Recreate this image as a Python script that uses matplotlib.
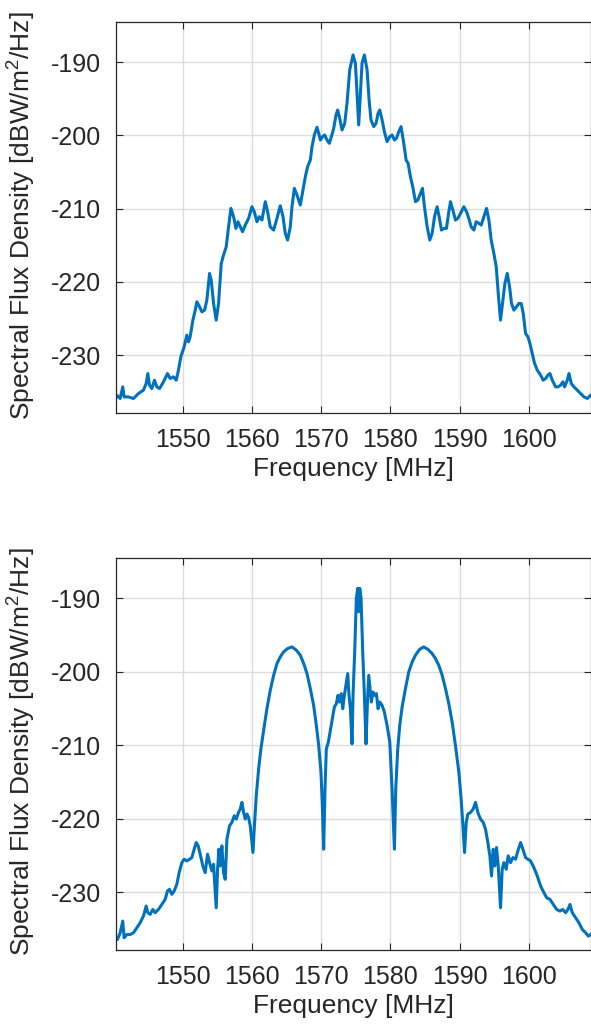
import matplotlib
matplotlib.use("Agg")
import matplotlib.pyplot as plt

plt.rcParams['font.family'] = ['Liberation Sans', 'DejaVu Sans']
plt.rcParams['mathtext.fontset'] = 'custom'
plt.rcParams['mathtext.rm'] = 'Liberation Sans'
plt.rcParams['mathtext.it'] = 'Liberation Sans'
plt.rcParams['axes.unicode_minus'] = False

# ---- Data: top panel (frequency [MHz], spectral flux density [dBW/m^2/Hz]) ----
freq_top = [1540.21, 1540.45, 1540.94, 1541.32, 1541.52, 1542.14, 1542.87, 1543.59,
            1544.31, 1544.70, 1544.94, 1545.18, 1545.52, 1545.90, 1546.24, 1546.63,
            1547.21, 1547.78, 1548.17, 1548.65, 1549.04, 1549.37, 1549.71, 1550.19,
            1550.58, 1550.82, 1551.06, 1551.45, 1551.79, 1552.03, 1552.41, 1552.75,
            1553.14, 1553.47, 1553.86, 1554.10, 1554.44, 1554.82, 1555.16, 1555.55,
            1555.88, 1556.27, 1556.61, 1556.94, 1557.33, 1557.67, 1557.96, 1558.29,
            1558.63, 1559.02, 1559.50, 1559.98, 1560.32, 1560.71, 1561.04, 1561.43,
            1561.91, 1562.25, 1562.63, 1563.12, 1563.60, 1564.08, 1564.47, 1564.80,
            1565.14, 1565.53, 1565.77, 1566.11, 1566.49, 1566.97, 1567.36, 1567.70,
            1568.03, 1568.42, 1568.66, 1569.00, 1569.38, 1569.63, 1569.87, 1570.20,
            1570.49, 1570.83, 1571.17, 1571.46, 1571.80, 1572.13, 1572.37, 1572.66,
            1573.00, 1573.39, 1573.72, 1574.11, 1574.59, 1574.93, 1575.17, 1575.41,
            1575.65, 1575.89, 1576.23, 1576.62, 1576.91, 1577.19, 1577.58, 1577.92,
            1578.21, 1578.45, 1578.79, 1579.12, 1579.51, 1579.90, 1580.23, 1580.57,
            1580.86, 1581.20, 1581.53, 1581.92, 1582.26, 1582.55, 1582.88, 1583.22,
            1583.61, 1583.95, 1584.33, 1584.62, 1584.91, 1585.30, 1585.68, 1586.02,
            1586.36, 1586.74, 1587.08, 1587.37, 1587.71, 1588.09, 1588.43, 1588.67,
            1589.01, 1589.39, 1589.73, 1590.12, 1590.60, 1590.99, 1591.32, 1591.66,
            1592.05, 1592.38, 1592.77, 1593.11, 1593.49, 1593.88, 1594.22, 1594.55,
            1594.94, 1595.28, 1595.57, 1595.90, 1596.24, 1596.53, 1596.87, 1597.21,
            1597.49, 1597.83, 1598.22, 1598.56, 1598.89, 1599.18, 1599.52, 1599.86,
            1600.15, 1600.48, 1600.82, 1601.21, 1601.69, 1602.07, 1602.41, 1602.75,
            1603.04, 1603.38, 1603.86, 1604.20, 1604.58, 1604.92, 1605.16, 1605.55,
            1605.79, 1606.12, 1606.51, 1606.99, 1607.47, 1607.96, 1608.44, 1608.92]
sfd_top = [-236.15, -235.47, -235.92, -234.33, -235.70, -235.70, -235.92, -235.24,
           -234.78, -233.87, -232.51, -234.10, -234.56, -233.42, -234.33, -234.56,
           -233.64, -232.51, -233.19, -232.96, -233.42, -232.05, -230.23, -228.86,
           -227.27, -228.18, -227.49, -225.22, -223.85, -222.71, -223.39, -224.08,
           -223.85, -222.48, -218.84, -219.75, -222.94, -225.22, -222.94, -217.47,
           -216.33, -215.19, -212.46, -209.95, -211.09, -212.69, -211.78, -212.46,
           -213.14, -212.23, -211.32, -209.73, -210.41, -211.78, -211.09, -211.55,
           -209.04, -210.41, -212.46, -212.92, -211.32, -209.59, -211.09, -213.37,
           -214.28, -212.46, -209.73, -207.22, -208.13, -209.50, -207.45, -205.63,
           -204.26, -203.35, -201.53, -199.93, -198.88, -199.70, -200.62, -200.16,
           -199.93, -200.62, -201.07, -200.16, -199.02, -197.20, -196.52, -197.65,
           -199.25, -198.34, -195.60, -191.05, -189.00, -190.14, -194.24, -198.56,
           -194.24, -190.14, -189.00, -191.05, -195.15, -197.88, -198.79, -198.34,
           -196.97, -196.52, -197.88, -199.48, -200.84, -200.16, -199.93, -200.62,
           -200.39, -199.48, -198.79, -201.07, -203.35, -203.80, -205.63, -206.99,
           -209.04, -208.82, -207.90, -207.22, -209.73, -212.46, -214.28, -213.37,
           -211.09, -209.73, -211.32, -212.92, -212.69, -212.69, -210.41, -209.04,
           -210.18, -211.55, -211.32, -210.64, -209.73, -210.41, -211.32, -212.46,
           -212.92, -211.78, -212.00, -212.23, -211.09, -209.95, -211.55, -214.28,
           -216.11, -217.93, -221.57, -225.22, -222.48, -220.21, -218.84, -220.66,
           -222.94, -223.85, -223.39, -222.94, -222.94, -224.31, -227.04, -227.49,
           -228.41, -229.77, -231.14, -232.05, -232.73, -233.42, -233.19, -232.73,
           -232.51, -233.42, -234.33, -234.33, -234.10, -233.64, -234.33, -233.42,
           -232.51, -233.87, -234.33, -234.78, -235.24, -235.70, -235.92, -235.47]

# ---- Data: bottom panel ----
freq_bot = [1540.21, 1540.55, 1540.94, 1541.32, 1541.52, 1541.90, 1542.38, 1542.87,
            1543.35, 1543.83, 1544.31, 1544.70, 1544.94, 1545.28, 1545.66, 1546.00,
            1546.48, 1546.96, 1547.45, 1547.78, 1548.07, 1548.41, 1548.75, 1549.13,
            1549.47, 1549.86, 1550.19, 1550.58, 1550.97, 1551.30, 1551.64, 1551.93,
            1552.22, 1552.51, 1552.89, 1553.23, 1553.57, 1553.86, 1554.20, 1554.44,
            1554.82, 1555.02, 1555.21, 1555.40, 1555.64, 1555.88, 1556.12, 1556.37,
            1556.75, 1557.09, 1557.43, 1557.72, 1558.05, 1558.29, 1558.54, 1558.78,
            1559.02, 1559.26, 1559.50, 1559.74, 1560.13, 1560.37, 1560.61, 1560.95,
            1561.28, 1561.67, 1562.15, 1562.63, 1563.12, 1563.60, 1564.08, 1564.56,
            1565.14, 1565.77, 1566.40, 1566.97, 1567.46, 1567.94, 1568.42, 1568.90,
            1569.29, 1569.63, 1569.96, 1570.16, 1570.35, 1570.54, 1570.73, 1571.02,
            1571.31, 1571.60, 1571.89, 1572.18, 1572.42, 1572.66, 1572.90, 1573.10,
            1573.34, 1573.63, 1573.82, 1574.01, 1574.21, 1574.45, 1574.59, 1574.83,
            1575.07, 1575.27, 1575.41, 1575.56, 1575.75, 1575.99, 1576.23, 1576.47,
            1576.67, 1576.86, 1577.05, 1577.24, 1577.48, 1577.73, 1577.97, 1578.21,
            1578.45, 1578.79, 1579.12, 1579.51, 1579.90, 1580.23, 1580.57, 1580.76,
            1581.05, 1581.34, 1581.68, 1582.16, 1582.64, 1583.13, 1583.61, 1584.23,
            1584.81, 1585.44, 1586.02, 1586.50, 1586.98, 1587.47, 1587.95, 1588.43,
            1588.91, 1589.39, 1589.88, 1590.21, 1590.50, 1590.70, 1590.94, 1591.18,
            1591.56, 1591.95, 1592.29, 1592.62, 1593.01, 1593.40, 1593.73, 1594.07,
            1594.36, 1594.60, 1594.84, 1595.08, 1595.32, 1595.57, 1595.90, 1596.14,
            1596.39, 1596.72, 1597.01, 1597.35, 1597.69, 1598.07, 1598.41, 1598.80,
            1599.13, 1599.52, 1599.86, 1600.24, 1600.72, 1601.21, 1601.69, 1602.17,
            1602.56, 1603.04, 1603.52, 1604.00, 1604.49, 1604.87, 1605.31, 1605.64,
            1605.93, 1606.27, 1606.75, 1607.23, 1607.72, 1608.20, 1608.58, 1608.92]
sfd_bot = [-236.01, -236.47, -235.56, -233.96, -236.24, -235.79, -235.79, -235.56,
           -234.87, -234.19, -233.28, -231.91, -232.82, -233.05, -232.37, -232.82,
           -232.37, -231.69, -231.00, -229.86, -229.64, -230.32, -229.86, -228.95,
           -227.36, -225.99, -225.54, -225.76, -225.54, -225.31, -224.17, -223.26,
           -223.71, -224.85, -226.45, -227.36, -224.85, -225.99, -227.13, -226.22,
           -232.14, -226.90, -224.17, -226.45, -223.71, -227.36, -228.27, -222.80,
           -220.98, -220.52, -219.61, -220.07, -219.16, -218.70, -217.79, -219.16,
           -220.07, -219.38, -219.84, -220.98, -224.62, -220.52, -216.88, -213.23,
           -210.50, -207.99, -205.03, -202.53, -200.48, -198.88, -197.97, -197.29,
           -196.83, -196.61, -197.06, -197.74, -198.88, -200.25, -202.30, -204.58,
           -207.31, -210.05, -213.69, -218.25, -224.17, -215.97, -210.50, -209.59,
           -207.99, -206.40, -204.81, -204.35, -203.21, -204.12, -202.98, -205.03,
           -203.21, -201.39, -200.25, -203.21, -205.03, -209.82, -203.21, -197.29,
           -190.00, -188.63, -191.82, -188.63, -190.00, -197.29, -203.21, -209.82,
           -204.12, -200.48, -202.30, -204.12, -202.76, -203.21, -202.98, -205.03,
           -204.12, -204.58, -205.49, -207.31, -209.59, -215.97, -224.17, -215.97,
           -210.50, -207.31, -204.81, -202.30, -200.02, -198.66, -197.74, -196.92,
           -196.61, -196.97, -197.52, -198.20, -199.11, -200.48, -202.30, -204.35,
           -206.86, -210.05, -213.69, -217.33, -221.43, -224.62, -220.52, -219.38,
           -219.16, -218.70, -217.79, -219.16, -220.07, -220.52, -221.43, -223.26,
           -225.08, -227.81, -224.17, -226.45, -223.94, -226.45, -232.14, -226.90,
           -225.99, -226.90, -225.08, -225.99, -225.31, -225.54, -224.40, -223.26,
           -224.17, -225.31, -225.54, -225.76, -226.67, -227.81, -229.18, -230.09,
           -230.77, -231.00, -231.69, -232.37, -232.60, -232.37, -232.82, -232.37,
           -231.69, -232.82, -233.51, -234.19, -235.10, -235.56, -236.01, -235.79]

x_ticks = [1550, 1560, 1570, 1580, 1590, 1600]
y_ticks = [-230, -220, -210, -200, -190]
x_label = 'Frequency [MHz]'
y_label = r'Spectral Flux Density [dBW/m$^2$/Hz]'

W, H = 591, 1028
fig = plt.figure(figsize=(W / 100, H / 100), dpi=100)

line_color = '#0072BD'
text_color = '#262626'
axes_pos = [
    [115.7 / W, 1 - 413 / H, (590.5 - 115.7) / W, (413 - 22) / H],
    [115.7 / W, 1 - 950 / H, (590.5 - 115.7) / W, (950 - 558) / H],
]
for pos, fx, fy in zip(axes_pos, [freq_top, freq_bot], [sfd_top, sfd_bot]):
    ax = fig.add_axes(pos)
    ax.plot(fx, fy, color=line_color, lw=2.2, solid_joinstyle='round')
    ax.set_xlim(1540.3, 1608.9)
    ax.set_ylim(-237.9, -184.5)
    ax.set_xticks(x_ticks)
    ax.set_yticks(y_ticks)
    ax.grid(True, color='#dcdcdc', lw=1.0)
    ax.set_axisbelow(True)
    ax.tick_params(direction='in', top=True, right=True, length=5, width=0.8,
                   color=text_color, labelsize=18, labelcolor=text_color)
    ax.tick_params(axis='x', pad=11)
    ax.tick_params(axis='y', pad=10.5)
    for s in ax.spines.values():
        s.set_color(text_color)
        s.set_linewidth(0.9)
    ax.set_xlabel(x_label, fontsize=19, color=text_color)
    ax.set_ylabel(y_label, fontsize=19, color=text_color)
    ax.xaxis.set_label_coords(0.5, -0.1125)
    ax.yaxis.set_label_coords(-0.1626, 0.505)

fig.savefig('out.png', dpi=100)
